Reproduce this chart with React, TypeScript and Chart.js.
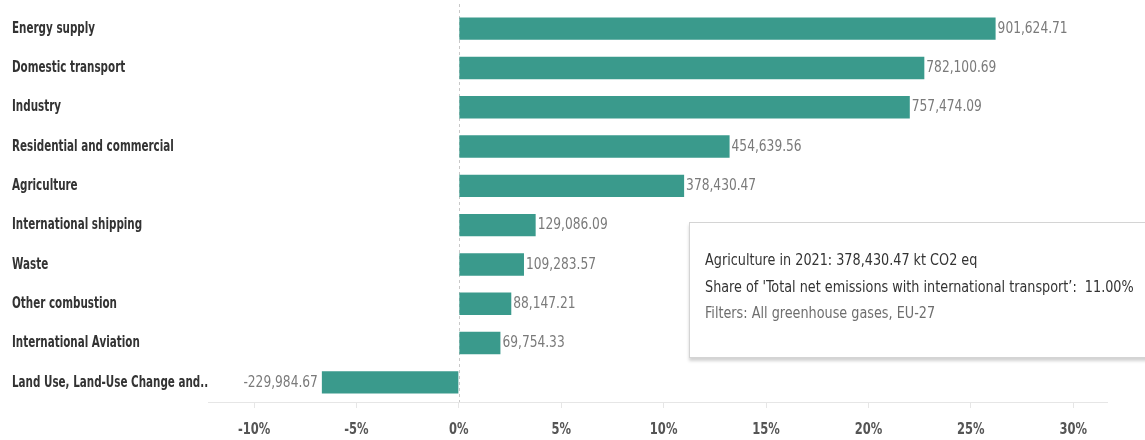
import React, { useEffect, useRef } from "react";
import { Chart, registerables } from "chart.js";

Chart.register(...registerables);

const categories = [
  "Energy supply",
  "Domestic transport",
  "Industry",
  "Residential and commercial",
  "Agriculture",
  "International shipping",
  "Waste",
  "Other combustion",
  "International Aviation",
  "Land Use, Land-Use Change and..",
];

// emissions in kt CO2 eq (bar labels)
const emissions = [
  901624.71, 782100.69, 757474.09, 454639.56, 378430.47, 129086.09, 109283.57,
  88147.21, 69754.33, -229984.67,
];

// share of total net emissions with international transport (%)
const shares = [26.21, 22.73, 22.02, 13.22, 11.0, 3.75, 3.18, 2.56, 2.03, -6.69];

const xTicks = [-10, -5, 0, 5, 10, 15, 20, 25, 30];

const tooltipLines = [
  "Agriculture in 2021: 378,430.47 kt CO2 eq",
  "Share of 'Total net emissions with international transport’:  11.00%",
  "Filters: All greenhouse gases, EU-27",
];

const FONT = "'Liberation Sans Narrow', 'DejaVu Sans Condensed', 'Arial Narrow', sans-serif";
const BAR = "#3a9a8c";

const fmt = (v: number) =>
  v.toLocaleString("en-US", { minimumFractionDigits: 2, maximumFractionDigits: 2 });

// draw text horizontally compressed (narrow face look)
function drawNarrow(ctx: any, text: string, x: number, y: number, align: string, sx: number) {
  ctx.save();
  ctx.translate(x, y);
  ctx.scale(sx, 1);
  ctx.textAlign = align;
  ctx.fillText(text, 0, 0);
  ctx.restore();
}

const barLabelPlugin = {
  id: "barLabels",
  afterDatasetsDraw(chart: any) {
    const ctx = chart.ctx;
    const meta = chart.getDatasetMeta(0);
    ctx.save();
    ctx.font = `16px ${FONT}`;
    ctx.fillStyle = "#7a7a7a";
    ctx.textBaseline = "middle";
    meta.data.forEach((bar: any, i: number) => {
      const v = emissions[i];
      const { x, base, y } = bar.getProps(["x", "base", "y"], true);
      if (v >= 0) {
        drawNarrow(ctx, fmt(v), Math.max(x, base) + 2, y, "left", 0.85);
      } else {
        drawNarrow(ctx, fmt(v), Math.min(x, base) - 4, y, "right", 0.85);
      }
    });
    ctx.restore();
  },
};

const axisLabelPlugin = {
  id: "axisLabels",
  afterDraw(chart: any) {
    const ctx = chart.ctx;
    const ys = chart.scales.y;
    const xs = chart.scales.x;
    ctx.save();
    ctx.textBaseline = "middle";
    ctx.font = `bold 16px ${FONT}`;
    ctx.fillStyle = "#333";
    categories.forEach((c, i) => {
      drawNarrow(ctx, c, 12, ys.getPixelForTick(i), "left", 0.72);
    });
    ctx.fillStyle = "#555";
    xTicks.forEach((t) => {
      drawNarrow(ctx, `${t}%`, xs.getPixelForValue(t), chart.chartArea.bottom + 28, "center", 0.8);
    });
    ctx.restore();
  },
};

const zeroLinePlugin = {
  id: "zeroLine",
  beforeDatasetsDraw(chart: any) {
    const ctx = chart.ctx;
    const xs = chart.scales.x;
    const x0 = Math.round(xs.getPixelForValue(0)) + 0.5;
    ctx.save();
    ctx.strokeStyle = "#c8c8c8";
    ctx.lineWidth = 1;
    ctx.setLineDash([3, 3]);
    ctx.beginPath();
    ctx.moveTo(x0, 4);
    ctx.lineTo(x0, chart.chartArea.bottom);
    ctx.stroke();
    ctx.restore();
  },
};

export default function App() {
  const ref = useRef<HTMLCanvasElement>(null);

  useEffect(() => {
    if (!ref.current) return;
    const chart = new Chart(ref.current, {
      type: "bar",
      data: {
        labels: categories,
        datasets: [
          {
            data: shares,
            backgroundColor: BAR,
            borderWidth: 0,
            barPercentage: 0.57,
            categoryPercentage: 1,
          },
        ],
      },
      options: {
        indexAxis: "y",
        animation: false,
        responsive: false,
        maintainAspectRatio: false,
        layout: { padding: { left: 12, top: 9, right: 38, bottom: 0 } },
        plugins: {
          legend: { display: false },
          tooltip: { enabled: false },
        },
        scales: {
          x: {
            type: "linear",
            min: -12.25,
            max: 31.65,
            afterBuildTicks: (scale: any) => {
              scale.ticks = xTicks.map((v) => ({ value: v }));
            },
            afterFit: (scale: any) => {
              scale.height = 38;
            },
            grid: {
              drawOnChartArea: false,
              drawTicks: true,
              tickLength: 6,
              color: "#e6e6e6",
            },
            border: { display: true, color: "#e6e6e6" },
            ticks: { display: false },
          },
          y: {
            afterFit: (scale: any) => {
              scale.width = 196;
            },
            grid: { display: false },
            border: { display: false },
            ticks: { display: false },
          },
        },
      },
      plugins: [zeroLinePlugin, barLabelPlugin, axisLabelPlugin],
    } as any);
    return () => chart.destroy();
  }, []);

  const lineStyle = (color: string) => ({
    color,
    transform: "scaleX(0.89)",
    transformOrigin: "left center",
  });

  return (
    <div
      style={{
        position: "fixed",
        left: 0,
        top: 0,
        width: 1145,
        height: 440,
        background: "#fff",
        overflow: "hidden",
      }}
    >
      <canvas ref={ref} width={1145} height={440} style={{ display: "block" }} />
      <div
        style={{
          position: "absolute",
          left: 689,
          top: 222,
          width: 500,
          height: 136,
          boxSizing: "border-box",
          background: "#fff",
          border: "1px solid #d4d4d4",
          boxShadow: "0 3px 3px rgba(0,0,0,0.18)",
          padding: "24px 0 0 15px",
          fontFamily: FONT,
          fontSize: 16,
          lineHeight: "26.5px",
          whiteSpace: "pre",
        }}
      >
        <div style={lineStyle("#333")}>{tooltipLines[0]}</div>
        <div style={lineStyle("#333")}>{tooltipLines[1]}</div>
        <div style={lineStyle("#6e6e6e")}>{tooltipLines[2]}</div>
      </div>
    </div>
  );
}
